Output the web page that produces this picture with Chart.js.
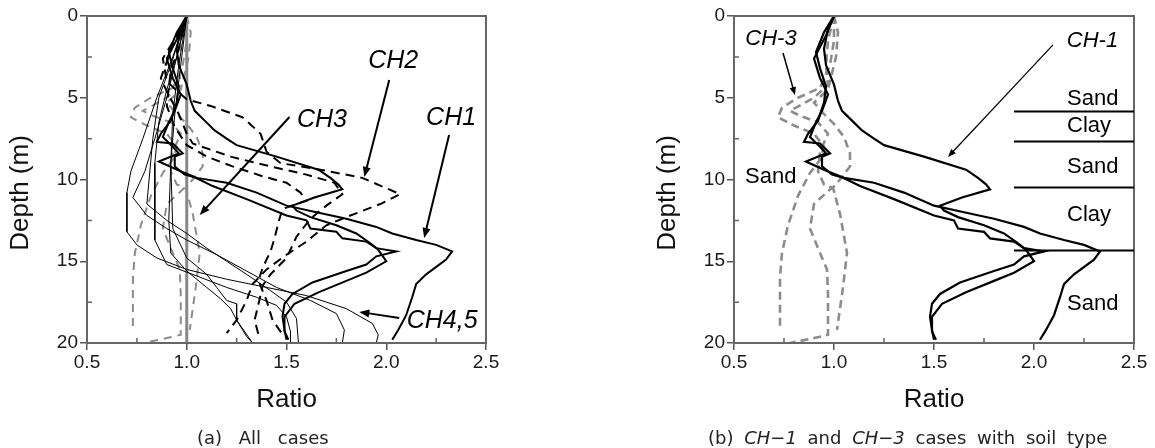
<!DOCTYPE html>
<html>
<head>
<meta charset="utf-8">
<script src="https://cdn.jsdelivr.net/npm/chart.js@4.4.1/dist/chart.umd.min.js"></script>
<style>
  body { margin: 0; background: #fff; width: 1155px; height: 448px; position: relative; overflow: hidden; }
  canvas { position: absolute; top: 0; }
  .cap { position: absolute; top: 429px; font: 18px 'DejaVu Sans', sans-serif; line-height: 18px; color: #222; white-space: nowrap; }
</style>
</head>
<body>
<canvas id="chartA" width="577" height="448" style="left:0"></canvas>
<canvas id="chartB" width="578" height="448" style="left:577px"></canvas>
<div class="cap" style="left:197px; word-spacing:11px">(a) All cases</div>
<div class="cap" style="left:708px; word-spacing:5px">(b) <i>CH−1</i> and <i>CH−3</i> cases with soil type</div>
<script>
// axis ticks
const ratioTicks = [0.5, 1.0, 1.5, 2.0, 2.5];
const xTickLabels = ['0.5', '1.0', '1.5', '2.0', '2.5'];
const depthTicks = [0, 5, 10, 15, 20];
const minorRatio = [0.75, 1.25, 1.75, 2.25];
const minorDepth = [2.5, 7.5, 12.5, 17.5];

// profiles: [ratio, depth (m)]
// CH1 (solid, thick)
const ch1a = [[1.0,0],[0.97,0.8],[0.95,2.0],[0.96,3.0],[1.0,4.2],[1.02,5.2],[1.04,5.8],[1.09,6.4],[1.14,7.0],[1.2,7.5],[1.25,7.9],[1.45,8.6],[1.66,9.4],[1.72,9.9],[1.76,10.3],[1.78,10.6],[1.64,11.1],[1.53,11.6],[1.55,11.9],[1.62,12.3],[1.75,12.8],[1.85,13.3],[1.92,13.9],[1.96,14.3],[2.0,15.0],[1.9,15.7],[1.8,16.2],[1.66,16.9],[1.54,17.6],[1.49,18.4],[1.49,19.3],[1.51,19.8]];
const ch1b = [[1.0,0],[0.95,1.0],[0.91,2.2],[0.93,3.2],[0.96,4.3],[0.95,5.3],[0.92,6.4],[0.87,7.2],[0.85,7.7],[0.93,7.8],[0.98,8.4],[0.94,8.6],[0.94,9.2],[0.99,9.7],[1.05,9.9],[1.2,10.2],[1.35,10.8],[1.5,11.6],[1.65,12.0],[1.8,12.4],[1.95,12.9],[2.03,13.3],[2.15,13.7],[2.25,14.0],[2.33,14.4],[2.3,14.9],[2.2,15.8],[2.15,16.4],[2.13,17.2],[2.1,18.3],[2.06,19.2],[2.03,19.8]];
const ch1c = [[1.0,0],[0.96,1.2],[0.9,2.6],[0.93,3.8],[0.97,4.8],[0.94,5.8],[0.91,6.5],[0.88,7.4],[0.93,8.0],[0.96,8.4],[0.9,8.7],[0.86,8.9],[0.95,9.4],[1.03,9.8],[1.13,10.4],[1.3,11.2],[1.5,12.2],[1.6,12.5],[1.62,13.0],[1.75,13.2],[1.78,13.6],[1.9,13.8],[1.95,14.2],[2.05,14.4],[1.95,14.7],[1.9,15.2],[1.8,15.6],[1.63,16.3],[1.53,17.0],[1.49,17.6],[1.48,18.4],[1.49,19.2],[1.5,19.8]];
// CH2 (black dashed)
const ch2a = [[1.0,0],[0.95,1.2],[0.88,2.6],[0.9,4.0],[1.0,5.1],[1.12,5.5],[1.28,6.2],[1.37,7.2],[1.4,8.3],[1.47,9.0],[1.67,9.4],[1.88,9.9],[2.07,10.9],[1.97,11.5],[1.8,12.3],[1.7,12.8],[1.6,13.8],[1.5,14.6],[1.4,15.5],[1.33,16.4],[1.3,17.4],[1.25,18.6],[1.2,19.4]];
const ch2b = [[1.0,0],[0.93,1.8],[0.87,3.8],[0.9,4.6],[0.96,6.0],[1.0,7.2],[1.03,7.8],[1.22,8.6],[1.42,9.2],[1.6,9.7],[1.74,10.2],[1.78,10.9],[1.7,11.6],[1.62,12.4],[1.55,13.5],[1.5,14.8],[1.42,15.8],[1.38,16.5],[1.36,17.6],[1.34,18.6],[1.36,19.5]];
const ch2c = [[1.0,0],[0.96,2.0],[0.92,3.3],[0.9,5.5],[0.94,6.8],[1.0,7.9],[1.1,8.6],[1.23,9.2],[1.38,9.8],[1.5,10.2],[1.57,10.8],[1.6,11.3],[1.48,11.8],[1.46,12.6],[1.44,13.6],[1.42,14.4],[1.38,15.4],[1.36,16.2],[1.4,17.4],[1.43,18.6],[1.47,19.3],[1.5,19.6]];
// CH3 (grey dashed)
const ch3a = [[1.0,0],[1.0,1.5],[0.98,3.0],[0.93,4.4],[0.82,5.0],[0.74,5.6],[0.72,6.2],[0.8,6.7],[0.9,7.2],[0.95,8.0],[0.93,8.8],[0.88,9.6],[0.82,11.0],[0.77,12.8],[0.74,14.5],[0.73,16.0],[0.73,19.0]];
const ch3b = [[1.0,0],[0.97,1.5],[0.96,3.0],[0.97,4.2],[0.9,5.0],[0.78,5.8],[0.83,6.1],[0.92,6.5],[0.97,7.2],[0.93,8.3],[0.92,9.5],[0.95,10.3],[0.99,10.5],[0.9,11.5],[0.88,13.0],[0.93,14.5],[0.965,15.5],[0.97,17.0],[0.97,19.5],[0.9,19.7],[0.78,20.0]];
const ch3c = [[1.0,0],[1.02,1.0],[1.01,2.5],[0.97,4.5],[0.9,5.3],[0.95,6.0],[1.0,6.6],[1.05,7.4],[1.08,8.4],[1.08,9.2],[1.03,10.0],[0.995,10.5],[1.03,12.1],[1.065,14.5],[1.045,16.6],[1.015,19.2]];
// CH4,5 (thin solid)
const ch45a = [[1.0,0],[0.93,2.5],[0.85,5.0],[0.78,7.5],[0.72,9.5],[0.7,10.8],[0.7,13.2],[0.75,14.0],[0.85,14.8],[1.0,15.5],[1.2,16.1],[1.4,16.6],[1.6,17.1],[1.8,17.9],[1.93,18.8],[1.96,19.5],[1.95,20]];
const ch45b = [[1.0,0],[0.95,2.5],[0.9,5.0],[0.84,7.5],[0.79,9.5],[0.73,11.1],[0.8,12.2],[0.9,13.0],[1.0,13.7],[1.15,14.6],[1.3,15.6],[1.45,16.6],[1.62,17.4],[1.75,18.2],[1.79,19.2],[1.78,20]];
const ch45c = [[1.0,0],[0.92,3.0],[0.86,5.0],[0.83,7.5],[0.8,11.5],[0.9,12.5],[1.0,13.3],[1.1,14.2],[1.2,15.0],[1.3,15.8],[1.42,16.8],[1.5,17.5],[1.55,18.5],[1.56,20]];
const ch45d = [[1.0,0],[0.95,2.5],[0.9,4.5],[0.86,6.5],[0.84,9.0],[0.84,13.7],[0.9,15.2],[1.05,15.9],[1.2,16.6],[1.35,17.2],[1.45,17.7],[1.5,18.4],[1.52,19.3],[1.52,20]];
const ch45e = [[1.0,0],[0.97,3.0],[0.94,6.0],[0.92,9.0],[0.91,12.5],[0.92,14.5],[1.0,15.6],[1.1,16.6],[1.17,17.3],[1.22,17.9],[1.25,18.6],[1.33,20]];
const ch45f = [[1.0,0],[0.96,3.0],[0.93,6.0],[0.92,9.0],[0.93,13.0],[1.0,14.8],[1.1,15.8],[1.15,16.6],[1.2,17.4],[1.25,17.6],[1.25,18.6],[1.3,19.6],[1.33,20]];
// ratio = 1 reference
const unityLine = [[1.0,0],[1.0,20]];

// soil layers (panel b)
const soilBoundaries = [5.8, 7.65, 10.45, 14.3];
const soilNames = ['Sand', 'Clay', 'Sand', 'Clay', 'Sand'];
const soilNameDepths = [5.44, 7.1, 9.6, 12.54, 17.98];

const FONT = "'Liberation Sans', Arial, sans-serif";

function line(data, color, width, dash) {
  return {
    data: data.map(([r, d]) => ({x: r, y: d})),
    borderColor: color,
    borderWidth: width,
    borderDash: dash || [],
    showLine: true,
    pointRadius: 0,
    fill: false,
    tension: 0,
  };
}

function arrow(ctx, x1, y1, x2, y2, w, head) {
  const ang = Math.atan2(y2 - y1, x2 - x1);
  ctx.lineWidth = w;
  ctx.beginPath();
  ctx.moveTo(x1, y1);
  ctx.lineTo(x2 - Math.cos(ang) * head * 0.8, y2 - Math.sin(ang) * head * 0.8);
  ctx.stroke();
  ctx.beginPath();
  ctx.moveTo(x2, y2);
  ctx.lineTo(x2 - head * Math.cos(ang) + head * 0.4 * Math.sin(ang), y2 - head * Math.sin(ang) - head * 0.4 * Math.cos(ang));
  ctx.lineTo(x2 - head * Math.cos(ang) - head * 0.4 * Math.sin(ang), y2 - head * Math.sin(ang) + head * 0.4 * Math.cos(ang));
  ctx.closePath();
  ctx.fill();
}

const decor = {
  id: 'decor',
  afterDatasetsDraw(chart, args, opts) {
    const {ctx, chartArea: a, scales: {x, y}} = chart;
    ctx.save();
    ctx.strokeStyle = '#666';
    ctx.lineWidth = 2;
    ctx.strokeRect(a.left, a.top, a.right - a.left, a.bottom - a.top);

    ctx.lineWidth = 1.5;
    ctx.beginPath();
    minorRatio.forEach(v => { const px = x.getPixelForValue(v); ctx.moveTo(px, a.bottom); ctx.lineTo(px, a.bottom - 5); });
    minorDepth.forEach(v => { const py = y.getPixelForValue(v); ctx.moveTo(a.left, py); ctx.lineTo(a.left + 5, py); });
    ctx.stroke();

    ctx.fillStyle = '#000';
    ctx.strokeStyle = '#000';
    if (opts.soil) {
      ctx.lineWidth = 2;
      ctx.beginPath();
      soilBoundaries.forEach(d => {
        const py = Math.round(y.getPixelForValue(d)) + 0.5;
        ctx.moveTo(x.getPixelForValue(1.9), py);
        ctx.lineTo(a.right, py);
      });
      ctx.stroke();
      ctx.font = '22px ' + FONT;
      ctx.textAlign = 'left';
      ctx.textBaseline = 'alphabetic';
      soilNames.forEach((s, i) => ctx.fillText(s, x.getPixelForValue(2.165), y.getPixelForValue(soilNameDepths[i])));
      ctx.fillText('Sand', x.getPixelForValue(0.555), y.getPixelForValue(10.2));
    }

    (opts.notes || []).forEach(n => {
      ctx.font = 'italic ' + n.size + 'px ' + FONT;
      ctx.textAlign = 'center';
      ctx.textBaseline = 'alphabetic';
      ctx.fillText(n.text, x.getPixelForValue(n.at[0]), y.getPixelForValue(n.at[1]));
      const [p, q] = n.arrow;
      arrow(ctx, x.getPixelForValue(p[0]), y.getPixelForValue(p[1]), x.getPixelForValue(q[0]), y.getPixelForValue(q[1]), n.w, n.head);
    });

    ctx.fillStyle = '#111';
    ctx.font = '26px ' + FONT;
    ctx.textAlign = 'center';
    ctx.textBaseline = 'alphabetic';
    ctx.fillText('Ratio', (a.left + a.right) / 2, 407);
    ctx.save();
    ctx.translate(a.left - 66, 193);
    ctx.rotate(-Math.PI / 2);
    ctx.textBaseline = 'middle';
    ctx.fillText('Depth (m)', 0, 0);
    ctx.restore();
    ctx.restore();
  }
};

function makeChart(id, datasets, yAxisWidth, padRight, decorOpts) {
  const tickFont = {family: FONT, size: 19};
  const grid = {drawOnChartArea: false, drawTicks: true, tickLength: 7, color: '#555', lineWidth: 1.5};
  return new Chart(document.getElementById(id), {
    type: 'scatter',
    data: {datasets},
    plugins: [decor],
    options: {
      responsive: false,
      animation: false,
      events: [],
      layout: {padding: {left: 0, right: padRight, top: 16, bottom: 0}},
      plugins: {legend: {display: false}, tooltip: {enabled: false}, decor: decorOpts},
      scales: {
        x: {
          type: 'linear', min: 0.5, max: 2.5,
          afterBuildTicks: s => { s.ticks = ratioTicks.map(v => ({value: v})); },
          afterFit: s => { s.height = 105; },
          ticks: {callback: v => xTickLabels[ratioTicks.indexOf(v)], font: tickFont, color: '#1a1a1a', padding: 1, maxRotation: 0},
          grid, border: {display: false},
        },
        y: {
          type: 'linear', min: 0, max: 20, reverse: true,
          afterBuildTicks: s => { s.ticks = depthTicks.map(v => ({value: v})); },
          afterFit: s => { s.width = yAxisWidth; },
          ticks: {callback: v => String(v), font: tickFont, color: '#1a1a1a', padding: 2},
          grid, border: {display: false},
        },
      },
    },
  });
}

const GREY = '#8c8c8c';

makeChart('chartA', [
  line(ch1a, '#000', 2), line(ch1b, '#000', 2), line(ch1c, '#000', 2),
  line(ch2a, '#000', 2, [9, 6]), line(ch2b, '#000', 2, [9, 6]), line(ch2c, '#000', 2, [9, 6]),
  line(ch45a, '#000', 1), line(ch45b, '#000', 1), line(ch45c, '#000', 1),
  line(ch45d, '#000', 1), line(ch45e, '#000', 1), line(ch45f, '#000', 1),
  line(ch3a, GREY, 2, [8, 6]), line(ch3b, GREY, 2, [8, 6]), line(ch3c, GREY, 2, [8, 6]),
  line(unityLine, '#888', 3),
], 87, 91, {
  notes: [
    {text: 'CH2', size: 25, at: [2.035, 3.18], arrow: [[2.015, 3.91], [1.89, 9.85]], w: 2, head: 10},
    {text: 'CH1', size: 25, at: [2.325, 6.67], arrow: [[2.315, 7.28], [2.19, 13.58]], w: 2, head: 10},
    {text: 'CH3', size: 25, at: [1.6775, 6.79], arrow: [[1.515, 6.18], [1.065, 12.17]], w: 2, head: 10},
    {text: 'CH4,5', size: 25, at: [2.28, 19.08], arrow: [[2.065, 18.47], [1.865, 18.1]], w: 2, head: 10},
  ],
});

makeChart('chartB', [
  line(ch1a, '#000', 2.2), line(ch1b, '#000', 2.2), line(ch1c, '#000', 2.2),
  line(ch3a, GREY, 2.6, [8, 5]), line(ch3b, GREY, 2.6, [8, 5]), line(ch3c, GREY, 2.6, [8, 5]),
], 157, 21, {
  soil: true,
  notes: [
    {text: 'CH-3', size: 22, at: [0.685, 1.77], arrow: [[0.745, 2.26], [0.805, 4.83]], w: 1.5, head: 8},
    {text: 'CH-1', size: 22, at: [2.2925, 1.9], arrow: [[2.095, 1.77], [1.57, 8.62]], w: 1.2, head: 8},
  ],
});
</script>
</body>
</html>
